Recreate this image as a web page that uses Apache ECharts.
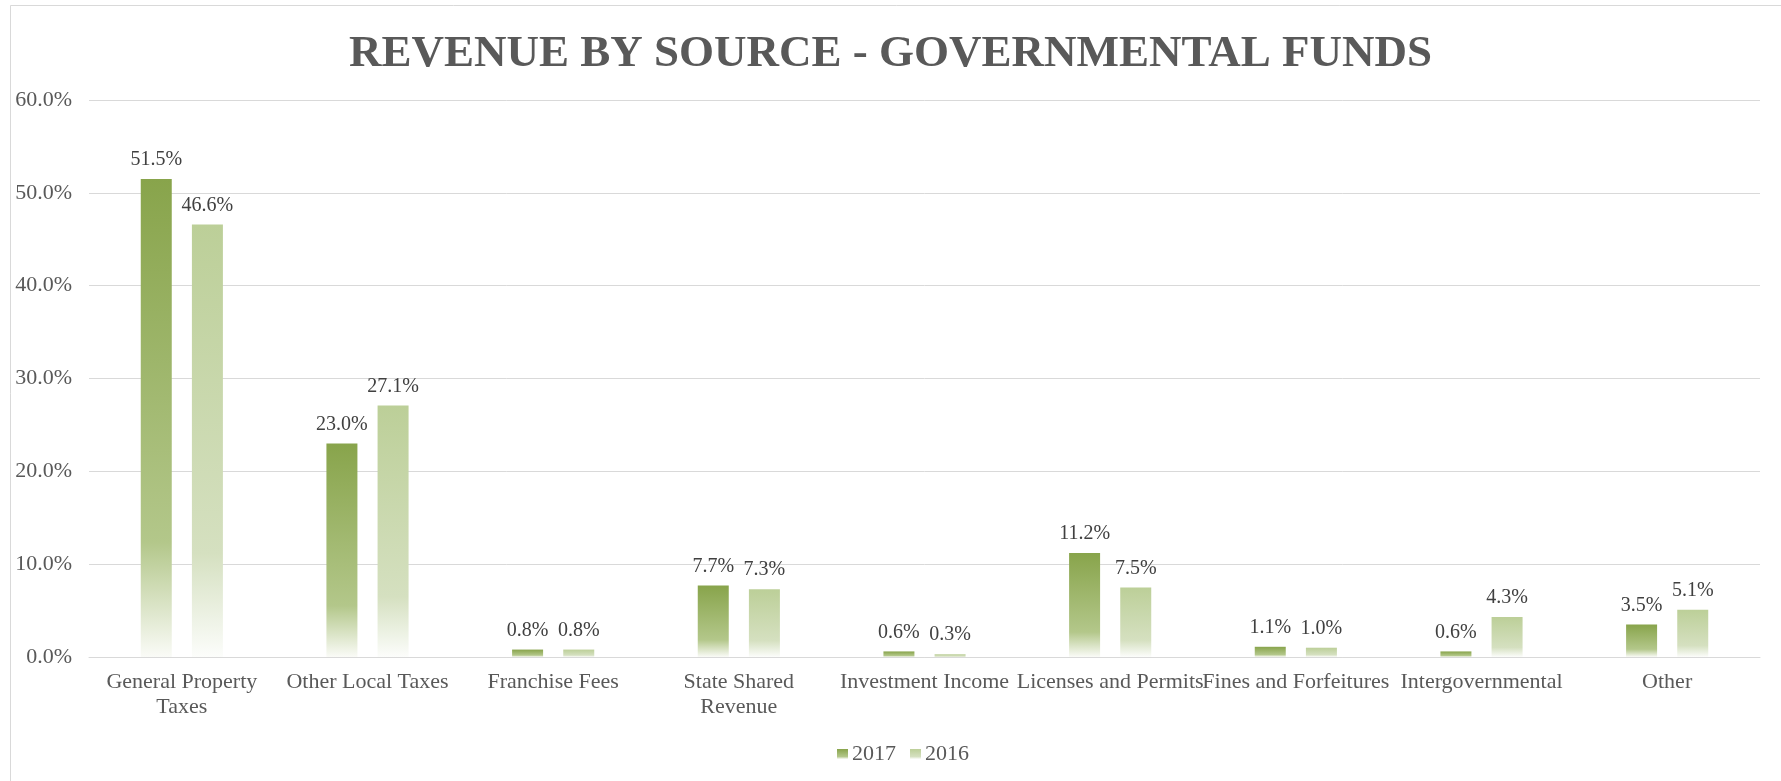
<!DOCTYPE html>
<html>
<head>
<meta charset="utf-8">
<script src="https://cdn.jsdelivr.net/npm/echarts@6/dist/echarts.min.js"></script>
<style>
html,body{margin:0;padding:0;background:#fff;}
#chart{width:1781px;height:781px;}
</style>
</head>
<body>
<div id="chart"></div>
<script>
const categories = ['General Property\nTaxes', 'Other Local Taxes', 'Franchise Fees', 'State Shared\nRevenue', 'Investment Income', 'Licenses and Permits', 'Fines and Forfeitures', 'Intergovernmental', 'Other'];
const values2017 = [51.5, 23.0, 0.8, 7.7, 0.6, 11.2, 1.1, 0.6, 3.5];
const values2016 = [46.6, 27.1, 0.8, 7.3, 0.3, 7.5, 1.0, 4.3, 5.1];
const yTicks = [0, 10, 20, 30, 40, 50, 60];

const FONT = '"Liberation Serif", "Times New Roman", serif';

function grad(top, mid, bottom) {
  return new echarts.graphic.LinearGradient(0, 0, 0, 1, [
    {offset: 0, color: top},
    {offset: 0.76, color: mid},
    {offset: 1, color: bottom}
  ]);
}

const chart = echarts.init(document.getElementById('chart'), null, {renderer: 'canvas'});
const labelCfg = {
  show: true,
  position: 'top',
  distance: 9,
  color: '#404040',
  fontFamily: FONT,
  fontSize: 20,
  formatter: p => p.value.toFixed(1) + '%'
};
chart.setOption({
  backgroundColor: '#ffffff',
  animation: false,
  graphic: [{
    type: 'rect',
    shape: {x: 10.5, y: 5.5, width: 1800, height: 800},
    style: {fill: 'none', stroke: '#d9d9d9', lineWidth: 1},
    silent: true,
    z: -10
  }],
  title: {
    text: 'REVENUE BY SOURCE - GOVERNMENTAL FUNDS',
    left: 'center',
    top: 27,
    textStyle: {
      fontFamily: FONT,
      fontWeight: 'bold',
      fontSize: 45,
      color: '#595959'
    }
  },
  legend: {
    data: ['2017', '2016'],
    left: 832,
    top: 738,
    itemWidth: 11,
    itemHeight: 10,
    itemGap: 14,
    icon: 'rect',
    textStyle: {fontFamily: FONT, fontSize: 22, color: '#595959', padding: [0, 0, 0, -1]}
  },
  grid: {left: 89, right: 21, top: 100, bottom: 124},
  xAxis: {
    type: 'category',
    data: categories,
    axisLine: {lineStyle: {color: '#d9d9d9', width: 1}},
    axisTick: {show: false},
    axisLabel: {
      interval: 0,
      color: '#595959',
      fontFamily: FONT,
      fontSize: 22,
      lineHeight: 25,
      margin: 13
    }
  },
  yAxis: {
    type: 'value',
    min: yTicks[0],
    max: yTicks[yTicks.length - 1],
    interval: 10,
    axisLine: {show: false},
    axisTick: {show: false},
    splitLine: {lineStyle: {color: '#d9d9d9', width: 1}},
    axisLabel: {
      color: '#595959',
      fontFamily: FONT,
      fontSize: 22,
      margin: 17,
      formatter: v => v.toFixed(1) + '%'
    }
  },
  series: [
    {
      name: '2017',
      type: 'bar',
      data: values2017,
      barWidth: 31,
      barGap: '65%',
      itemStyle: {color: grad('#88a44b', '#b3c78a', '#fafbf7')},
      label: labelCfg
    },
    {
      name: '2016',
      type: 'bar',
      data: values2016,
      barWidth: 31,
      itemStyle: {color: grad('#bccf98', '#d5e0c0', '#fcfdfb')},
      label: labelCfg
    }
  ]
});
</script>
</body>
</html>
